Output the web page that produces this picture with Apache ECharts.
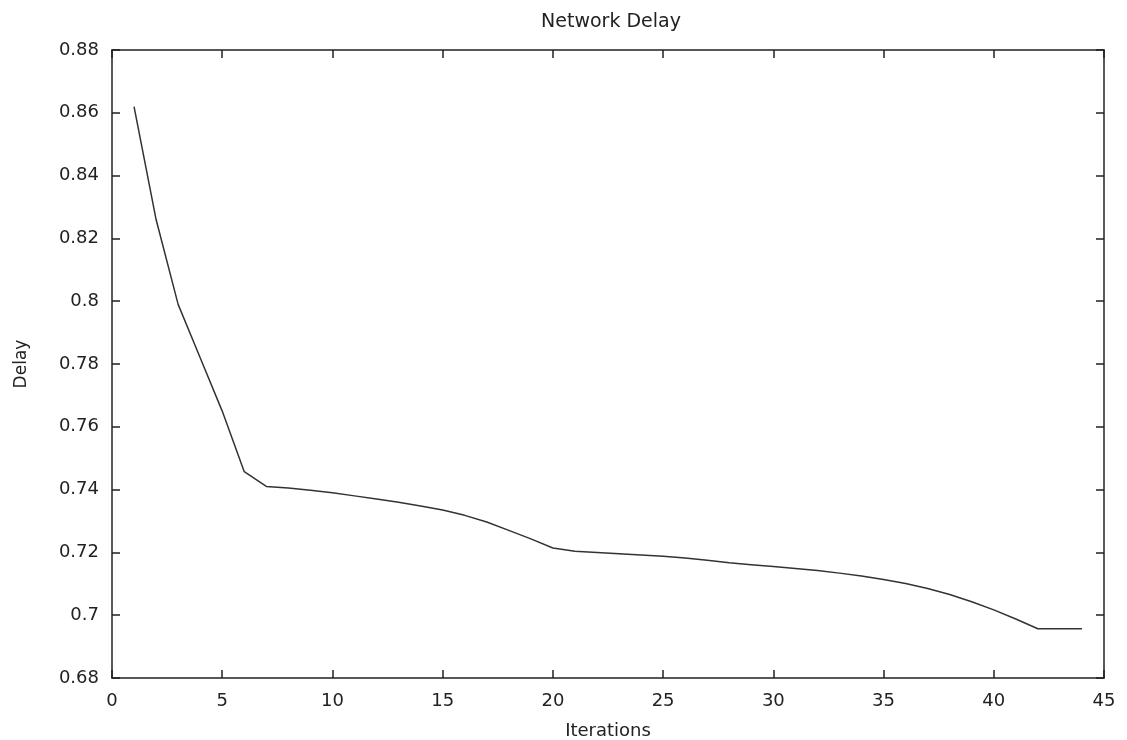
<!DOCTYPE html>
<html>
<head>
<meta charset="utf-8">
<script src="https://cdn.jsdelivr.net/npm/echarts@6/dist/echarts.min.js"></script>
<style>
html, body { margin: 0; padding: 0; background: #fff; }
#chart { width: 1127px; height: 740px; }
</style>
</head>
<body>
<div id="chart"></div>
<script>
// iterations & delay values
var iterations = [1, 2, 3, 4, 5, 6, 7, 8, 9, 10, 11, 12, 13, 14, 15, 16, 17, 18, 19, 20, 21, 22,
    23, 24, 25, 26, 27, 28, 29, 30, 31, 32, 33, 34, 35, 36, 37, 38, 39, 40, 41, 42, 43, 44]
var delay = [0.862, 0.826, 0.799, 0.782, 0.765, 0.7457, 0.741, 0.7405, 0.7398, 0.739, 0.738,
    0.737, 0.736, 0.7348, 0.7335, 0.7318, 0.7297, 0.727, 0.7243, 0.7214, 0.7204, 0.72, 0.7196,
    0.7192, 0.7188, 0.7182, 0.7175, 0.7167, 0.7161, 0.7155, 0.7149, 0.7142, 0.7134, 0.7125,
    0.7114, 0.7101, 0.7085, 0.7066, 0.7043, 0.7017, 0.6988, 0.6957, 0.6957, 0.6957]

var points = []
for (var i = 0; i < iterations.length; i++) {
    points.push([iterations[i], delay[i]])
}

var font = 'DejaVu Sans, sans-serif'
var tickStyle = { show: true, inside: true, length: 8, lineStyle: { color: '#222', width: 1.5 } }
var lineStyle = { color: '#222', width: 1.5 }

var myChart = echarts.init(document.getElementById('chart'))
myChart.setOption({
    animation: false,
    title: {
        text: 'Network Delay',
        left: 606,
        textAlign: 'center',
        top: 8,
        textStyle: { fontFamily: font, fontSize: 19, fontWeight: 'normal', color: '#222' }
    },
    grid: { left: 112, right: 23, top: 50, bottom: 62, show: false, containLabel: false, outerBoundsMode: 'none' },
    xAxis: [{
        type: 'value', min: 0, max: 45, interval: 5,
        name: 'Iterations', nameLocation: 'middle', nameGap: 44,
        nameTextStyle: { fontFamily: font, fontSize: 18, color: '#222' },
        axisLine: { show: true, onZero: false, lineStyle: lineStyle },
        axisTick: tickStyle,
        axisLabel: { fontFamily: font, fontSize: 18, color: '#222', margin: 14 },
        splitLine: { show: false }
    }, {
        type: 'value', position: 'top', min: 0, max: 45, interval: 5,
        axisLine: { show: true, onZero: false, lineStyle: lineStyle },
        axisTick: tickStyle,
        axisLabel: { show: false },
        splitLine: { show: false }
    }],
    yAxis: [{
        type: 'value', min: 0.68, max: 0.88, interval: 0.02,
        name: 'Delay', nameLocation: 'middle', nameGap: 82,
        nameTextStyle: { fontFamily: font, fontSize: 17, color: '#222' },
        axisLine: { show: true, onZero: false, lineStyle: lineStyle },
        axisTick: tickStyle,
        axisLabel: { fontFamily: font, fontSize: 18, color: '#222', margin: 13 },
        splitLine: { show: false }
    }, {
        type: 'value', position: 'right', min: 0.68, max: 0.88, interval: 0.02,
        axisLine: { show: true, onZero: false, lineStyle: lineStyle },
        axisTick: tickStyle,
        axisLabel: { show: false },
        splitLine: { show: false }
    }],
    series: [{
        type: 'line',
        data: points,
        showSymbol: false,
        lineStyle: { color: '#333', width: 1.5 }
    }]
})
</script>
</body>
</html>
